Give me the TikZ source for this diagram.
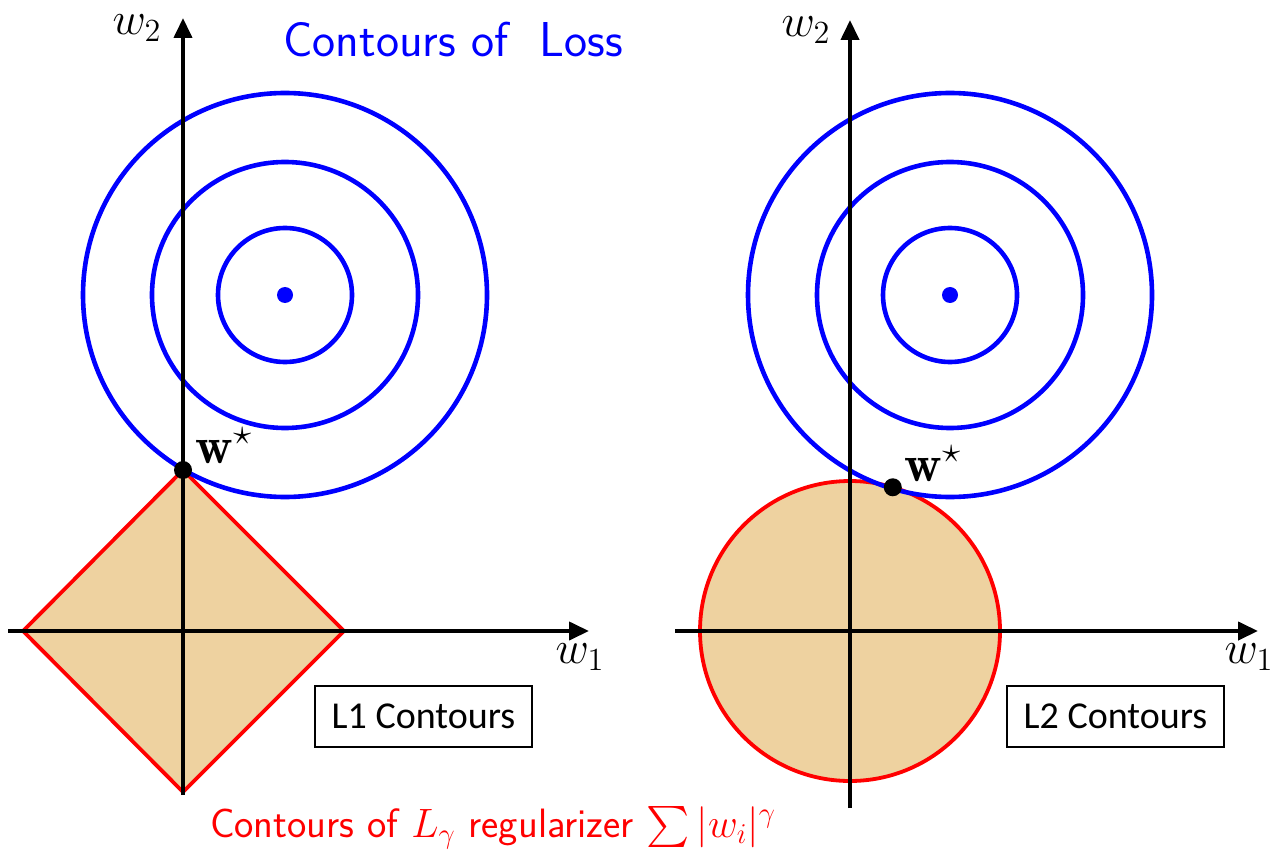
\RequirePackage{fix-cm}
\documentclass[tikz,border=0pt]{standalone}
\usepackage{amsmath}
\usepackage{amssymb}
\usepackage{fontspec}
\newfontfamily\boxfont{Carlito}
\usetikzlibrary{arrows.meta,positioning,calc}
\definecolor{ballfill}{RGB}{238,210,160}
\tikzset{
  axis/.style={line width=2pt, -{Triangle[length=10pt,width=9pt]}},
  loss/.style={draw=blue, line width=2.3pt},
  reg/.style={draw=red, line width=1.9pt, fill=ballfill},
  optpt/.style={circle, fill=black, inner sep=0pt, minimum size=9pt},
  ctrpt/.style={circle, fill=blue, inner sep=0pt, minimum size=8pt},
  axlabel/.style={inner sep=1pt, font=\fontsize{23}{26}\selectfont},
  optlabel/.style={inner sep=1pt, font=\fontsize{26}{30}\selectfont},
  normbox/.style={draw, line width=0.8pt, minimum width=108.5pt, minimum height=30.5pt, font=\boxfont\fontsize{19}{22}\selectfont},
  caption/.style={font=\sffamily\fontsize{24.5}{28}\selectfont},
}
\begin{document}
\begin{tikzpicture}[x=0.5pt, y=-0.5pt]
  \useasboundingbox (0,0) rectangle (1277,855);

  % L1 panel
  \coordinate (o1) at (183,631);
  \coordinate (c1) at (285,295);
  \coordinate (d1n) at (183,470);
  \coordinate (d1e) at (344,631);
  \coordinate (d1s) at (183,792);
  \coordinate (d1w) at (23,631);
  \path[reg] (d1n) -- (d1e) -- (d1s) -- (d1w) -- cycle;
  \foreach \r in {33.5,66.5,101}
    \draw[loss] (c1) circle[radius=\r pt];
  \node[ctrpt] (m1) at (c1) {};
  \coordinate (x1a) at (8,631);
  \coordinate (x1b) at (589,631);
  \coordinate (y1a) at (183,795);
  \coordinate (y1b) at (183,18);
  \draw[axis] (x1a) -- (x1b);
  \draw[axis] (y1a) -- (y1b);
  \node[optpt] (ws1) at (d1n) {};
  \node[optlabel] (ws1lbl) at (224,446) {$\mathbf{w}^\star$};
  \node[axlabel] (w1a) at (580,657) {$w_1$};
  \node[axlabel] (w2a) at (137,28) {$w_2$};
  \node[normbox] (l1box) at (423.5,716.5) {L1 Contours};

  % L2 panel
  \coordinate (o2) at (850,631);
  \coordinate (c2) at (950,295);
  \draw[reg] (o2) circle[radius=75pt];
  \foreach \r in {33.5,66.5,101}
    \draw[loss] (c2) circle[radius=\r pt];
  \node[ctrpt] (m2) at (c2) {};
  \coordinate (x2a) at (675,631);
  \coordinate (x2b) at (1258,631);
  \coordinate (y2a) at (850,808);
  \coordinate (y2b) at (850,20);
  \draw[axis] (x2a) -- (x2b);
  \draw[axis] (y2a) -- (y2b);
  \node[optpt] (ws2) at ($(o2)!0.4278!(c2)$) {};
  \node[optlabel] (ws2lbl) at (933,464) {$\mathbf{w}^\star$};
  \node[axlabel] (w1b) at (1249,657) {$w_1$};
  \node[axlabel] (w2b) at (806,30) {$w_2$};
  \node[normbox] (l2box) at (1115.5,716.5) {L2 Contours};

  % captions
  \node[caption, text=blue] (lossttl) at (453,40) {Contours of\ \ Loss};
  \node[caption, text=red, font=\sffamily\fontsize{20.5}{24}\selectfont] (regttl) at (493,828) {Contours of $L_\gamma$ regularizer $\sum|w_i|^\gamma$};
\end{tikzpicture}
\end{document}
